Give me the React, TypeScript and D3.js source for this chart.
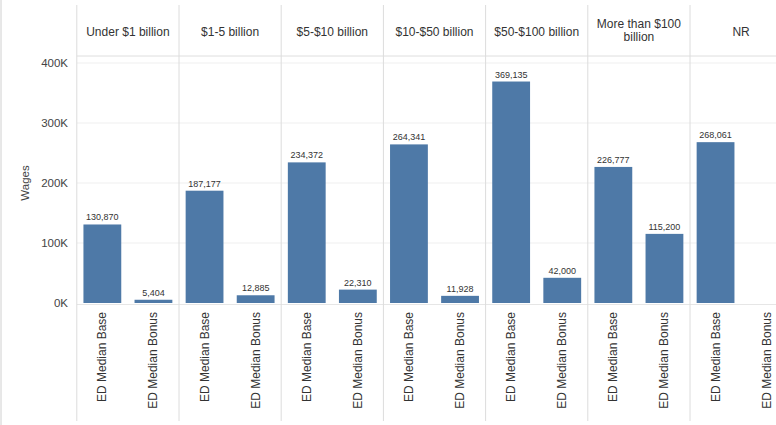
import React from "react";
import * as d3 from "d3";

const categories = ["Under $1 billion", "$1-5 billion", "$5-$10 billion", "$10-$50 billion", "$50-$100 billion", "More than $100 billion", "NR"];
const headerLines = [["Under $1 billion"], ["$1-5 billion"], ["$5-$10 billion"], ["$10-$50 billion"], ["$50-$100 billion"], ["More than $100", "billion"], ["NR"]];
const measures = ["ED Median Base", "ED Median Bonus"];
const baseValues = [130870, 187177, 234372, 264341, 369135, 226777, 268061];
const bonusValues: (number | null)[] = [5404, 12885, 22310, 11928, 42000, 115200, null];
const yTicks = [0, 100000, 200000, 300000, 400000];

const W = 776;
const H = 425;
const panelLeft = 76.8;
const panelW = 102.2;
const plotTop = 56;
const zeroY = 303;
const BLUE = "#4e79a7";

export default function App() {
  const x = d3.scaleBand<string>().domain(categories).range([panelLeft, panelLeft + panelW * categories.length]).paddingInner(0).paddingOuter(0);
  const inner = d3.scaleBand<string>().domain(measures).range([0, panelW]).paddingInner(0.26).paddingOuter(0.13);
  const y = d3.scaleLinear().domain([0, 400000]).range([zeroY, zeroY - 240]);
  const fmt = d3.format(",");
  const font = "'Liberation Sans', Arial, sans-serif";

  return (
    <svg width={W} height={H} style={{ position: "absolute", left: 0, top: 0, background: "#fff" }} fontFamily={font}>
      <line x1={1} x2={1} y1={0} y2={H} stroke="#d0d0d0" />
      {yTicks.slice(1).map((t) => (
        <line key={t} x1={panelLeft} x2={W} y1={y(t)} y2={y(t)} stroke="#efefef" />
      ))}
      <line x1={panelLeft} x2={W} y1={plotTop} y2={plotTop} stroke="#dedede" />
      <line x1={panelLeft} x2={W} y1={zeroY + 1.5} y2={zeroY + 1.5} stroke="#e6e6e6" />
      {categories.map((c) => (
        <line key={c} x1={x(c)!} x2={x(c)!} y1={5} y2={421} stroke="#dcdcdc" />
      ))}
      {categories.map((c, i) => {
        const lines = headerLines[i];
        const cx = x(c)! + panelW / 2;
        return (
          <text key={c} x={cx} textAnchor="middle" fontSize={12} fill="#333">
            {lines.map((l, j) => (
              <tspan key={j} x={cx} y={lines.length === 1 ? 36 : 28 + j * 13}>{l}</tspan>
            ))}
          </text>
        );
      })}
      {yTicks.map((t) => (
        <text key={t} x={68} y={y(t) + 4} textAnchor="end" fontSize={11.5} fill="#444">
          {t / 1000 + "K"}
        </text>
      ))}
      <text transform={`translate(29,${y(200000)}) rotate(-90)`} textAnchor="middle" fontSize={11.5} fill="#444">Wages</text>
      {categories.map((c, i) => {
        const vals = [baseValues[i], bonusValues[i]];
        return (
          <g key={c}>
            {measures.map((m, j) => {
              const v = vals[j];
              const bx = x(c)! + inner(m)!;
              const cx = bx + inner.bandwidth() / 2;
              return (
                <g key={m}>
                  {v != null && (
                    <>
                      <rect x={bx} y={y(v)} width={inner.bandwidth()} height={zeroY - y(v)} fill={BLUE} />
                      <text x={cx} y={y(v) - 4} textAnchor="middle" fontSize={9} fill="#333">{fmt(v)}</text>
                    </>
                  )}
                  <text transform={`translate(${cx + 4},312) rotate(-90)`} textAnchor="end" fontSize={12} fill="#333">{m}</text>
                </g>
              );
            })}
          </g>
        );
      })}
    </svg>
  );
}
